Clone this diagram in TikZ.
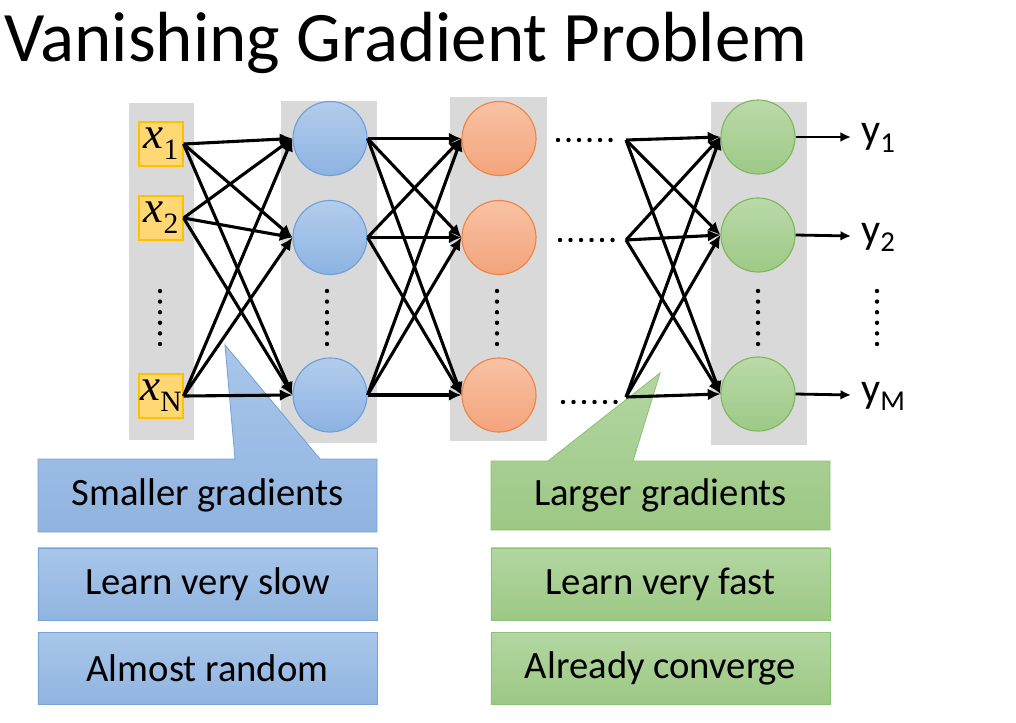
\documentclass[tikz,border=0pt]{standalone}
\usepackage{fontspec}
\setmainfont{Carlito}
\newfontfamily\timesf{Liberation Serif}
\usetikzlibrary{arrows.meta}
\definecolor{colgray}{HTML}{D9D9D9}
\definecolor{bluetop}{HTML}{B2CDEC}
\definecolor{bluebot}{HTML}{8DB3E2}
\definecolor{blueline}{HTML}{6E9FD6}
\definecolor{orgtop}{HTML}{F8C2A4}
\definecolor{orgbot}{HTML}{F3A47C}
\definecolor{orgline}{HTML}{EE8444}
\definecolor{grntop}{HTML}{BADAAA}
\definecolor{grnbot}{HTML}{9DC985}
\definecolor{grnline}{HTML}{7DB85C}
\definecolor{yelfill}{HTML}{FFD773}
\definecolor{yelline}{HTML}{FFC000}
\definecolor{cbtop}{HTML}{A9C6EA}
\definecolor{cbbot}{HTML}{90B4E0}
\definecolor{cbline}{HTML}{76A3D8}
\definecolor{cgtop}{HTML}{B3D6A2}
\definecolor{cgbot}{HTML}{9CC884}
\definecolor{cgline}{HTML}{8CC274}
\newcommand{\xlab}[1]{{\timesf\itshape x}\raisebox{-8pt}{\fontsize{21}{21}\timesf\selectfont #1}}
\newcommand{\ylab}[1]{y\raisebox{-6pt}{\fontsize{20.5}{20.5}\selectfont #1}}
\begin{document}
\begin{tikzpicture}[x=0.025cm,y=-0.025cm,
  column/.style={fill=colgray,draw=none},
  neuron/.style={circle,minimum size=1.85cm,inner sep=0pt,line width=0.8pt},
  bneuron/.style={neuron,draw=blueline,top color=bluetop,bottom color=bluebot},
  oneuron/.style={neuron,draw=orgline,top color=orgtop,bottom color=orgbot},
  gneuron/.style={neuron,draw=grnline,top color=grntop,bottom color=grnbot},
  inbox/.style={rectangle,minimum size=1.1cm,inner sep=0pt,fill=yelfill,draw=yelline,line width=0.8pt,font=\fontsize{32}{32}\selectfont},
  conn/.style={line width=2.2pt,-{Latex[length=9pt,width=8.5pt]}},
  outconn/.style={line width=2pt,-{Latex[length=7.5pt,width=7pt]}},
  dot/.style={fill=black,draw=none},
  calltext/.style={font=\fontsize{27.5}{32}\selectfont,inner sep=0pt},
  bluebox/.style={rectangle,minimum width=8.475cm,minimum height=1.8cm,top color=cbtop,bottom color=cbbot,draw=cbline,line width=0.6pt,font=\fontsize{27.5}{32}\selectfont},
  greenbox/.style={rectangle,minimum width=8.475cm,minimum height=1.8cm,top color=cgtop,bottom color=cgbot,draw=cgline,line width=0.6pt,font=\fontsize{27.5}{32}\selectfont},
  outlab/.style={anchor=base west,inner sep=0pt,font=\fontsize{30}{30}\selectfont}
]
\useasboundingbox (0,0) rectangle (1016,722);
\fill[white] (0,0) rectangle (1016,722);

% title
\node[anchor=base west,inner sep=0pt,font=\fontsize{50.5}{51}\selectfont] (title) at (4,62) {Vanishing Gradient Problem};

% gray columns
\fill[column] (129,103) rectangle (194,440);
\fill[column] (281,101) rectangle (377,443);
\fill[column] (450,97) rectangle (547,441);
\fill[column] (711,102) rectangle (807,445);

% callouts
\path[top color=cbtop,bottom color=cbbot,draw=cbline,line width=0.6pt]
  (38,459) -- (235,459) -- (225,345) -- (320,459) -- (377,459) -- (377,532) -- (38,532) -- cycle;
\node[calltext] (s1) at (207.5,495.5) {Smaller gradients};
\node[bluebox] (s2) at (207.5,584) {Learn very slow};
\node[bluebox] (s3) at (207.5,668.5) {Almost random};

\path[top color=cgtop,bottom color=cgbot,draw=cgline,line width=0.6pt]
  (491,461) -- (548,461) -- (660,373) -- (633,461) -- (830,461) -- (830,530) -- (491,530) -- cycle;
\node[calltext] (l1) at (660.5,495.5) {Larger gradients};
\node[greenbox] (l2) at (660.5,584) {Learn very fast};
\node[greenbox] (l3) at (660.5,668) {Already converge};

% input boxes
\node[inbox] (x1) at (161,144) {\xlab{1}};
\node[inbox] (x2) at (161,218) {\xlab{2}};
\node[inbox] (xN) at (161,396) {\xlab{N}};

% neurons
\node[bneuron] (h1) at (330,138.5) {};
\node[bneuron] (h2) at (330,237.5) {};
\node[bneuron] (h3) at (330,395) {};
\node[oneuron] (o1) at (499,138.5) {};
\node[oneuron] (o2) at (499,237.5) {};
\node[oneuron] (o3) at (499,395) {};
\node[gneuron] (g1) at (758,137) {};
\node[gneuron] (g2) at (758,235) {};
\node[gneuron] (g3) at (758,394) {};

% vertical dots
\foreach \xx in {160,327,497,758,877}
  \foreach \k in {0,...,5}
    \fill[dot] (\xx,{291+\k*10.6}) circle (2.2);

% horizontal dots
\foreach \k in {0,...,5} {
  \fill[dot] ({558+\k*10.5},140) circle (2.2);
  \fill[dot] ({560+\k*10.5},240) circle (2.2);
  \fill[dot] ({563+\k*10.5},402) circle (2.2);
}

% fan-out points
\coordinate (f1) at (626,140);
\coordinate (f2) at (626,240);
\coordinate (f3) at (626,397);

% connectors
\foreach \s in {x1,x2,xN}
  \foreach \t in {h1,h2,h3}
    \draw[conn] (\s.east) -- (\t.west);
\foreach \s in {h1,h2,h3}
  \foreach \t in {o1,o2,o3}
    \draw[conn] (\s.east) -- (\t.west);
\foreach \s in {f1,f2,f3}
  \foreach \t in {g1,g2,g3}
    \draw[conn] (\s) -- (\t.west);

% outputs
\coordinate (e1) at (851,137);
\coordinate (e2) at (851,236);
\coordinate (e3) at (851,395);
\draw[outconn] (g1.east) -- (e1);
\draw[outconn] (g2.east) -- (e2);
\draw[outconn] (g3.east) -- (e3);
\node[outlab] (y1) at (861,144) {\ylab{1}};
\node[outlab] (y2) at (861,243) {\ylab{2}};
\node[outlab] (yM) at (861,402) {\ylab{M}};
\end{tikzpicture}
\end{document}
